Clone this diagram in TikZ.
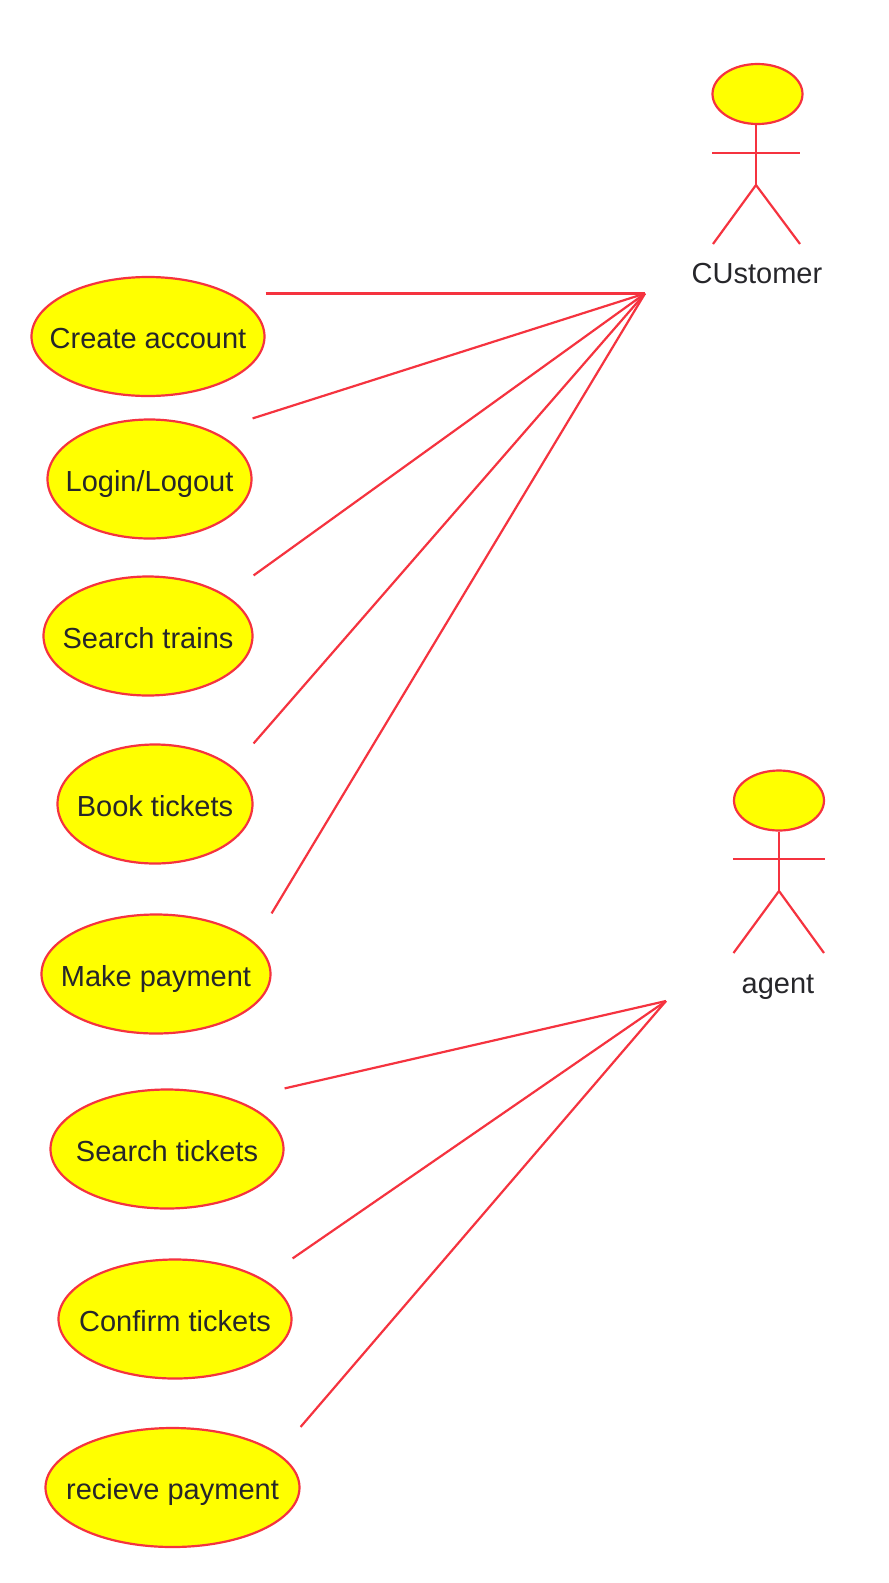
\documentclass[tikz,border=0pt]{standalone}
\usepackage{fontspec}
\setmainfont{Liberation Sans}
\usepackage{xcolor}
\usetikzlibrary{shapes.geometric}
\definecolor{umlred}{HTML}{F5333F}
\definecolor{umlyellow}{HTML}{FFFF00}
\definecolor{umltext}{HTML}{26262A}
\newcommand{\ucname}[1]{\raisebox{-12pt}[0pt][0pt]{\makebox[0pt]{#1}}}
\tikzset{
  usecase/.style={
    ellipse, draw=umlred, fill=umlyellow, line width=2.2pt,
    minimum height=119pt, inner sep=0pt, text=umltext,
    font=\fontsize{29}{32}\selectfont
  },
  actorhead/.style={
    ellipse, draw=umlred, fill=umlyellow, line width=2.2pt,
    minimum width=90pt, minimum height=60pt, inner sep=0pt
  },
  actorline/.style={draw=umlred, line width=2.2pt},
  assocline/.style={draw=umlred, line width=2.2pt},
  actorlabel/.style={font=\fontsize{29}{32}\selectfont, text=umltext, inner sep=0pt},
}
\begin{document}
\begin{tikzpicture}[x=1pt, y=-1pt]
  \useasboundingbox (0,0) rectangle (889,1583);
  % use cases
  \node (create) [usecase, minimum width=233pt] at (148,336.5) {\ucname{Create account}};
  \node (login) [usecase, minimum width=204pt] at (149.5,479) {\ucname{Login/Logout}};
  \node (trains) [usecase, minimum width=209pt] at (148,636) {\ucname{Search trains}};
  \node (book) [usecase, minimum width=195pt] at (155,804) {\ucname{Book tickets}};
  \node (pay) [usecase, minimum width=229pt] at (156,974) {\ucname{Make payment}};
  \node (tickets) [usecase, minimum width=233pt] at (167,1149) {\ucname{Search tickets}};
  \node (confirm) [usecase, minimum width=233pt] at (175,1319) {\ucname{Confirm tickets}};
  \node (receive) [usecase, minimum width=254pt] at (172.5,1487.5) {\ucname{recieve payment}};
  % customer
  \node (custhead) [actorhead] at (757.5,94) {};
  \coordinate (custhip) at (756,185);
  \draw[actorline] (custhead.south -| custhip) -- (custhip);
  \draw[actorline] (712,153) -- (800,153);
  \draw[actorline] (713,244) -- (custhip) -- (800,244);
  \node (custlabel) [actorlabel] at (757,274) {CUstomer};
  % agent
  \node (agenthead) [actorhead] at (779,800.5) {};
  \coordinate (agenthip) at (779,891);
  \draw[actorline] (agenthead.south) -- (agenthip);
  \draw[actorline] (733,859) -- (825,859);
  \draw[actorline] (733.5,953) -- (agenthip) -- (824,953);
  \node (agentlabel) [actorlabel] at (778,987) {agent};
  % associations
  \coordinate (custhub) at (645,293.5);
  \coordinate (agenthub) at (666,1001);
  \draw[assocline] (create.east |- custhub) -- (custhub);
  \draw[assocline] (login.east |- login.north) -- (custhub);
  \draw[assocline] (trains.east |- trains.north) -- (custhub);
  \draw[assocline] (book.east |- book.north) -- (custhub);
  \draw[assocline] (pay.east |- pay.north) -- (custhub);
  \draw[assocline] (tickets.east |- tickets.north) -- (agenthub);
  \draw[assocline] (confirm.east |- confirm.north) -- (agenthub);
  \draw[assocline] (receive.east |- receive.north) -- (agenthub);
\end{tikzpicture}
\end{document}
